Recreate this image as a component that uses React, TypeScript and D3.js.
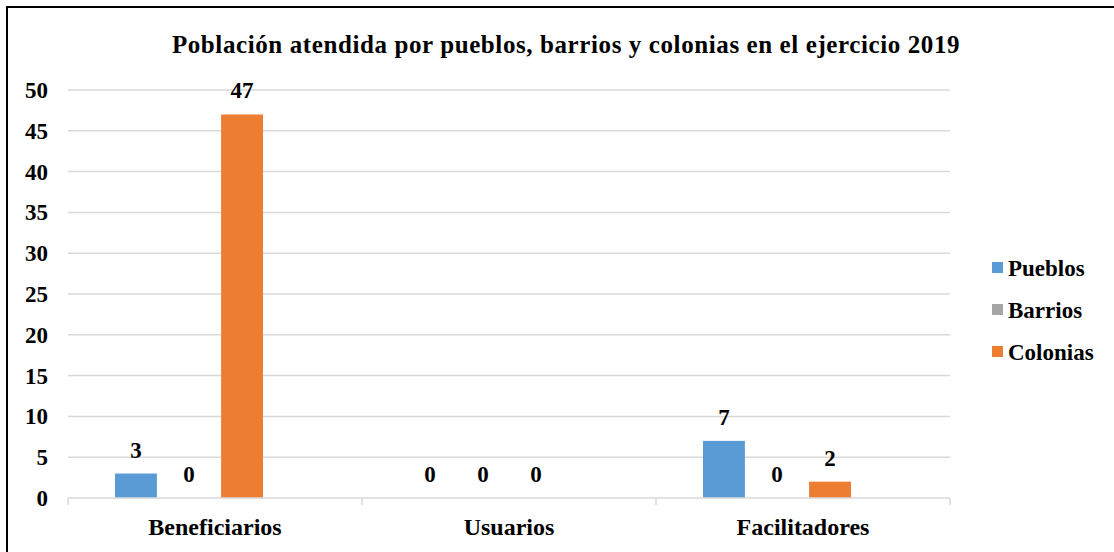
import React from "react";
import * as d3 from "d3";

const categories = ["Beneficiarios", "Usuarios", "Facilitadores"];
const seriesNames = ["Pueblos", "Barrios", "Colonias"];
const pueblos = [3, 0, 7];
const barrios = [0, 0, 0];
const colonias = [47, 0, 2];
const yTicks = [0, 5, 10, 15, 20, 25, 30, 35, 40, 45, 50];
const colors = ["#5B9BD5", "#A5A5A5", "#ED7D31"];

const W = 1114;
const H = 552;
const FONT = "'Liberation Serif', 'DejaVu Serif', 'Noto Serif', Tinos, FreeSerif, Times, serif";

export default function App() {
  const values = [pueblos, barrios, colonias];
  const x0 = d3.scaleBand<string>().domain(categories).range([68, 950]).paddingInner(0).paddingOuter(0);
  const x1 = d3.scaleBand<string>().domain(seriesNames).range([47, 195]).paddingInner(0.21).paddingOuter(0);
  const y = d3.scaleLinear().domain([0, 50]).range([498, 90]);
  const tickXs = [...categories.map((c) => x0(c)!), 950];

  return (
    <svg width={W} height={H} style={{ position: "absolute", left: 0, top: 0 }}>
      <rect x={0} y={0} width={W} height={H} fill="#fff" />
      <line x1={6} y1={7} x2={W} y2={7} stroke="#000" strokeWidth={2} />
      <line x1={7} y1={6} x2={7} y2={H} stroke="#000" strokeWidth={2} />
      <g style={{ fontFamily: FONT }}>
        <text x={566} y={53} textAnchor="middle" fontSize={25} letterSpacing={0.6} fontWeight="bold" fill="#000">
          Población atendida por pueblos, barrios y colonias en el ejercicio 2019
        </text>
        {yTicks.map((t) => (
          <g key={t}>
            {t !== 0 && <line x1={68} x2={950} y1={y(t)} y2={y(t)} stroke="#D9D9D9" strokeWidth={1.5} />}
            <text x={48} y={y(t) + 8} textAnchor="end" fontSize={23} fontWeight="bold" fill="#000">
              {t}
            </text>
          </g>
        ))}
        {categories.map((c, ci) =>
          seriesNames.map((s, si) => {
            const v = values[si][ci];
            const bx = x0(c)! + x1(s)!;
            const bw = x1.bandwidth();
            return (
              <g key={c + s}>
                {v > 0 && <rect x={bx} y={y(v)} width={bw} height={y(0) - y(v)} fill={colors[si]} />}
                <text x={bx + bw / 2} y={y(v) - 16} textAnchor="middle" fontSize={23} fontWeight="bold" fill="#000">
                  {v}
                </text>
              </g>
            );
          })
        )}
        <line x1={68} x2={950} y1={y(0)} y2={y(0)} stroke="#D9D9D9" strokeWidth={1.5} />
        {tickXs.map((tx, i) => (
          <line key={i} x1={tx} x2={tx} y1={y(0)} y2={y(0) + 7} stroke="#D9D9D9" strokeWidth={1.5} />
        ))}
        {categories.map((c) => (
          <text key={c} x={x0(c)! + x0.bandwidth() / 2} y={535} textAnchor="middle" fontSize={24} fontWeight="bold" fill="#000">
            {c}
          </text>
        ))}
        {seriesNames.map((s, i) => (
          <g key={s}>
            <rect x={992} y={262 + i * 42} width={11} height={11} fill={colors[i]} />
            <text x={1008} y={276 + i * 42} fontSize={23} fontWeight="bold" fill="#000">
              {s}
            </text>
          </g>
        ))}
      </g>
    </svg>
  );
}
